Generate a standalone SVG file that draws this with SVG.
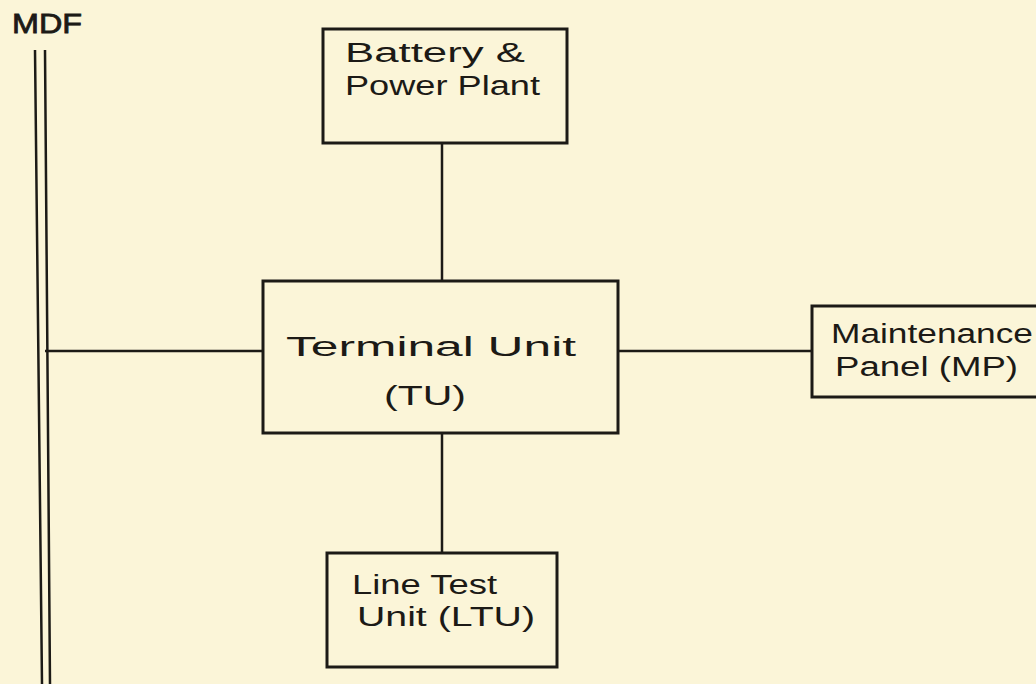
<svg xmlns="http://www.w3.org/2000/svg" width="1036" height="684" viewBox="0 0 1036 684">
<style>
.box{fill:none;stroke:#1c1a16;stroke-width:3}
.ln{fill:none;stroke:#1c1a16;stroke-width:2.5}
.t{font-family:"Liberation Sans",Arial,sans-serif;fill:#1c1a16;font-size:27px}
</style>
<rect x="0" y="0" width="1036" height="684" fill="#fbf5d8"/>
<g id="mdf">
<text class="t" x="12" y="33" font-size="27" textLength="70" lengthAdjust="spacingAndGlyphs" stroke="#1c1a16" stroke-width="0.8">MDF</text>
<path class="ln" d="M35 50 L42 684 M45 50 L50 684"/>
</g>
<g id="battery">
<rect class="box" x="323" y="29" width="244" height="114"/>
<text class="t" x="345" y="62" textLength="180" lengthAdjust="spacingAndGlyphs">Battery &amp;</text>
<text class="t" x="345" y="95" textLength="195" lengthAdjust="spacingAndGlyphs">Power Plant</text>
</g>
<g id="tu">
<rect class="box" x="263" y="281" width="355" height="152"/>
<text class="t" x="286" y="356" font-size="30" textLength="290" lengthAdjust="spacingAndGlyphs">Terminal Unit</text>
<text class="t" x="384" y="405" font-size="30" textLength="82" lengthAdjust="spacingAndGlyphs">(TU)</text>
</g>
<g id="mp">
<rect class="box" x="812" y="306" width="240" height="91"/>
<text class="t" x="831" y="343" font-size="24" textLength="202" lengthAdjust="spacingAndGlyphs">Maintenance</text>
<text class="t" x="835" y="376" font-size="24" textLength="183" lengthAdjust="spacingAndGlyphs">Panel (MP)</text>
</g>
<g id="ltu">
<rect class="box" x="327" y="553" width="230" height="114"/>
<text class="t" x="352" y="594" font-size="24" textLength="145" lengthAdjust="spacingAndGlyphs">Line Test</text>
<text class="t" x="357" y="626" font-size="24" textLength="178" lengthAdjust="spacingAndGlyphs">Unit (LTU)</text>
</g>
<g id="connectors">
<path class="ln" d="M442 143 L442 281"/>
<path class="ln" d="M45 351 L263 351"/>
<path class="ln" d="M618 351 L812 351"/>
<path class="ln" d="M442 433 L442 553"/>
</g>
</svg>
